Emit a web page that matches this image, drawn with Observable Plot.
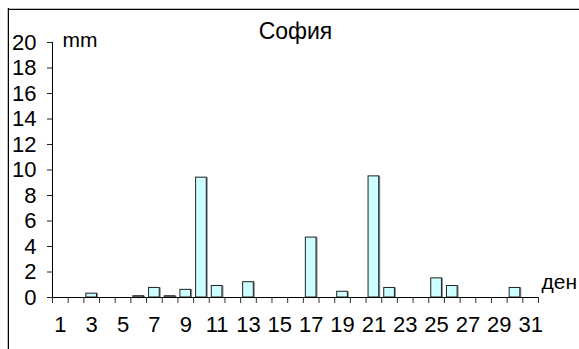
<!DOCTYPE html>
<html>
<head>
<meta charset="utf-8">
<script src="https://cdn.jsdelivr.net/npm/d3@7"></script>
<script src="https://cdn.jsdelivr.net/npm/@observablehq/plot@0.6"></script>
<style>
  html, body { margin: 0; padding: 0; background: #fff; }
  #chart { position: relative; width: 579px; height: 349px; overflow: hidden; }
  #chart .frame-top { position: absolute; left: 8px; top: 8px; right: 0; height: 1px; background: #bbb; border-bottom: 1px solid #000; }
  #chart .frame-left { position: absolute; left: 7px; top: 8px; bottom: 0; width: 1px; background: #bbb; border-right: 1px solid #000; }
  #chart svg { position: absolute; left: 0; top: 0; }
</style>
</head>
<body>
<div id="chart"><div class="frame-top"></div><div class="frame-left"></div></div>
<script>
// Daily precipitation for Sofia, one value per day of the month (mm)
const days = d3.range(1, 32);
const rainfall = [
  0, 0, 0.3, 0, 0, 0.1, 0.75, 0.1, 0.6, 9.4,
  0.9, 0, 1.2, 0, 0, 0, 4.7, 0, 0.45, 0,
  9.5, 0.75, 0, 0, 1.5, 0.9, 0, 0, 0, 0.75, 0
];
const yTicks = [0, 2, 4, 6, 8, 10, 12, 14, 16, 18, 20];
const xLabels = [1, 3, 5, 7, 9, 11, 13, 15, 17, 19, 21, 23, 25, 27, 29, 31];
const title = "София";
const yUnit = "mm";
const xUnit = "ден";

const rows = days.map((day, i) => ({day, value: rainfall[i]})).filter(d => d.value > 0);
const halfBar = 0.34;               // half of a bar's width, in days
const dayBounds = d3.range(0.5, 32, 1); // category boundaries for the tick marks

const chart = Plot.plot({
  width: 579,
  height: 349,
  marginTop: 42,
  marginBottom: 52,
  marginLeft: 52,
  marginRight: 41,
  style: {fontFamily: "'Liberation Sans', Arial, sans-serif", fontSize: "22px", color: "#000", background: "transparent", overflow: "visible"},
  x: {type: "linear", domain: [0.5, 31.5], axis: null},
  y: {domain: [0, 20], axis: null},
  marks: [
    Plot.rectY(rows, {x1: d => d.day - halfBar, x2: d => d.day + halfBar, y: "value", fill: "#888", dx: 1.5}),
    Plot.rectY(rows, {x1: d => d.day - halfBar, x2: d => d.day + halfBar, y: "value", fill: "#ccffff", stroke: "#222", strokeWidth: 1}),
    Plot.ruleY([0], {stroke: "#000", strokeWidth: 1.2}),
    Plot.ruleX([0.5], {stroke: "#000", strokeWidth: 1}),
    Plot.axisY(yTicks, {tickSize: 5, tickPadding: 11, stroke: "#222", fontSize: 22, label: null}),
    Plot.axisX(dayBounds, {tickSize: 6, tickFormat: () => "", stroke: "#333", label: null}),
    Plot.axisX(xLabels, {tickSize: 0, tickPadding: 19, fontSize: 22, label: null}),
    Plot.text([yUnit], {x: 0.5, y: 20, text: d => d, textAnchor: "start", dx: 10, dy: -2, fontSize: 21}),
    Plot.text([xUnit], {x: 31.5, y: 0, text: d => d, textAnchor: "start", dx: 3, dy: -15, fontSize: 21}),
    Plot.text([title], {frameAnchor: "top", lineAnchor: "middle", text: d => d, dy: -11, fontSize: 23})
  ]
});
document.getElementById("chart").appendChild(chart);
</script>
</body>
</html>
